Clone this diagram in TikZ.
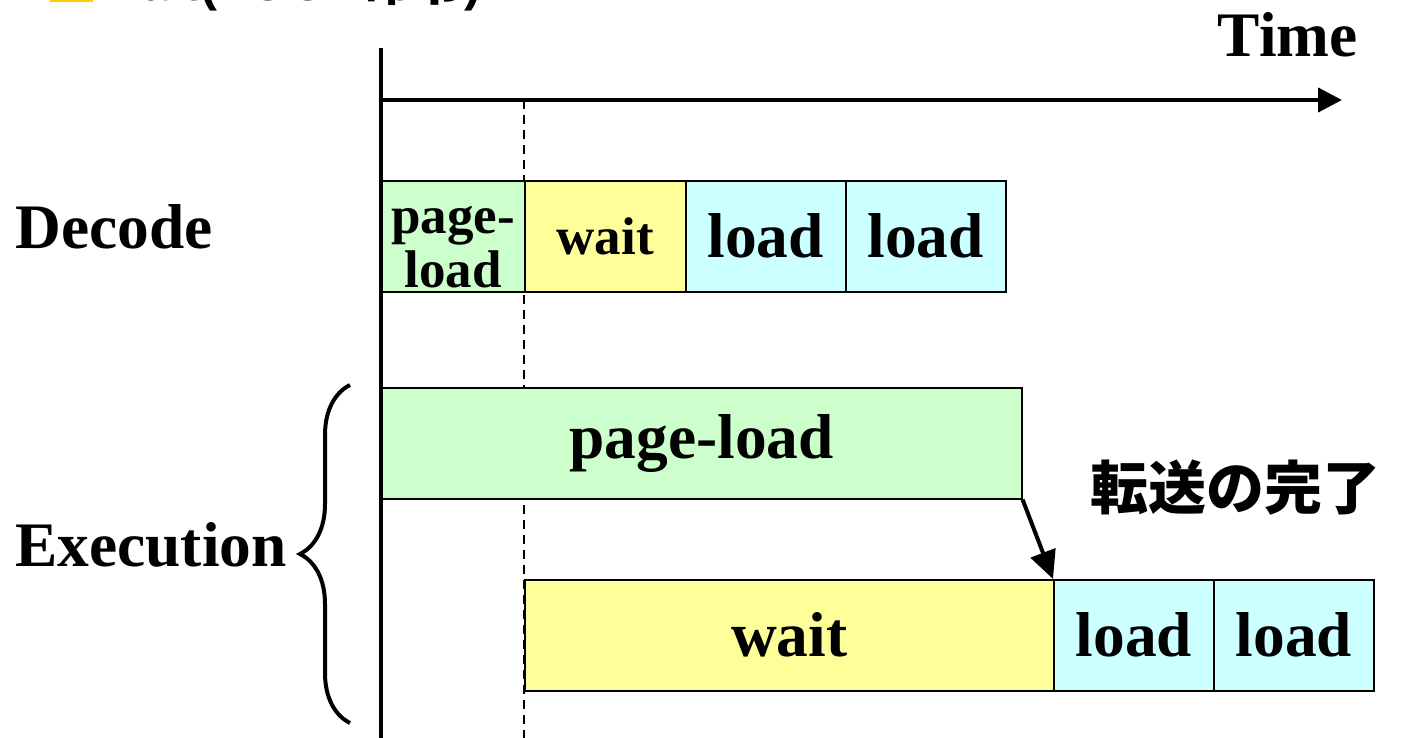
\documentclass[tikz,border=0pt]{standalone}
\usepackage{fontspec}
\setmainfont{Liberation Serif}
\newfontfamily\jpfont{Noto Sans CJK JP}
\newfontfamily\titlefont{Liberation Sans}
\usetikzlibrary{arrows.meta,positioning,decorations.pathreplacing}

\definecolor{pagegreen}{HTML}{CCFFCC}
\definecolor{waityellow}{HTML}{FFFF99}
\definecolor{loadcyan}{HTML}{CCFFFF}
\definecolor{bulletgold}{HTML}{FFCC00}

\begin{document}
\begin{tikzpicture}[
        x=0.5pt, y=-0.5pt,
        font=\bfseries\fontsize{31.7}{32}\selectfont,
        phase/.style={
            draw,
            line width=0.8pt,
            anchor=north west,
            minimum height=55.5pt,
            inner sep=0pt,
            align=center
        },
        pageload/.style={phase, fill=pagegreen},
        waiting/.style={phase, fill=waityellow},
        loading/.style={phase, fill=loadcyan, minimum width=80pt},
        small/.style={font=\bfseries\fontsize{26.5}{27}\selectfont},
        rowlabel/.style={inner sep=0pt, anchor=base west},
        timeline/.style={-{Triangle[length=12pt,width=12pt]}, line width=2pt},
        transfer/.style={-{Triangle[length=14pt,width=13pt]}, line width=2pt}
    ]
        \useasboundingbox (0,0) rectangle (1408,738);

        % cut-off heading
        \node[fill=bulletgold, minimum size=21.5pt, inner sep=0pt,
            anchor=south west] (bullet) at (50,2) {};
        \node[anchor=base west, inner sep=0pt,
            font=\titlefont\bfseries\fontsize{25.5}{25.5}\selectfont] (heading)
            at (101,1) {wait(LOCK{\jpfont\bfseries 命令})};

        % time axis
        \coordinate (origin) at (381,48);
        \coordinate (axisstart) at (381,100);
        \coordinate (axisend) at (1342,100);
        \coordinate (bottom) at (381,738);
        \coordinate (dashtop) at (524,100);
        \coordinate (dashbottom) at (524,738);
        \draw[line width=1pt, dash pattern=on 4.5pt off 3pt]
            (dashtop) -- (dashbottom);
        \node[rowlabel, anchor=base east] (time) at (1358,57) {Time};

        % Decode row
        \node[rowlabel] (decode) at (15,248) {Decode};
        \node[pageload, minimum width=71.5pt, small,
            text height=51.5pt, text depth=0pt] (dpage) at (381,180)
            {page-\\load};
        \node[waiting, minimum width=80.5pt, small] (dwait) at (524,180)
            {wait};
        \node[loading] (dload1) at (685,180) {load};
        \node[loading] (dload2) at (845,180) {load};

        % Execution rows
        \node[rowlabel] (execution) at (15,566) {Execution};
        \node[pageload, minimum width=320pt] (epage) at (381,387)
            {page-load};
        \node[waiting, minimum width=264.5pt] (ewait) at (524,579) {wait};
        \node[loading] (eload1) at (1053,579) {load};
        \node[loading] (eload2) at (1213,579) {load};

        \draw[line width=2pt] (origin) -- (bottom);
        \draw[timeline] (axisstart) -- (axisend);

        % brace round the execution rows
        \coordinate (bracebottom) at (350,723);
        \coordinate (bracetop) at (350,385);
        \draw[line width=2pt, decorate,
            decoration={brace, amplitude=25pt, aspect=0.5}]
            (bracebottom) -- (bracetop);

        % end of transfer
        \draw[transfer] (epage.south east) -- (eload1.north west);
        \node[font=\jpfont\bfseries\fontsize{29}{29}\selectfont,
            inner sep=0pt] (done) at (1235,488) {転送の完了};
\end{tikzpicture}
\end{document}
